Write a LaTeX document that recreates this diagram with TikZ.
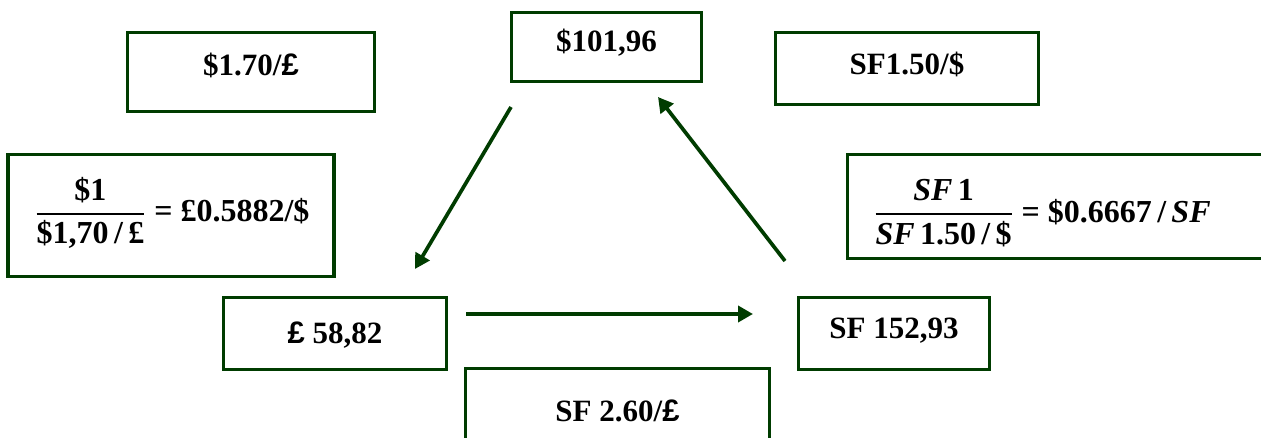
\RequirePackage{fix-cm}
\documentclass[tikz,border=0pt]{standalone}
\usepackage{amsmath}
\usepackage{fontspec}
\setmainfont{Liberation Serif}
\newfontfamily\gbpfont{Liberation Sans}
\usetikzlibrary{arrows.meta}
\definecolor{dkgreen}{RGB}{0,60,0}
\newcommand{\gbp}{{\gbpfont\bfseries £}}
\newcommand{\ratefrac}[2]{\genfrac{}{}{1.6pt}{0}{\text{#1}}{\text{#2}}}

\begin{document}
\begin{tikzpicture}[x=1pt, y=-1pt,
    box/.style={draw=dkgreen, line width=3.3pt, inner sep=0pt,
        font=\fontsize{31}{36}\selectfont\bfseries, text height=20pt},
    formula/.style={inner sep=0pt, font=\fontsize{32}{38}\selectfont\bfseries},
    link/.style={draw=dkgreen, line width=3.7pt, -{Triangle[length=15pt, width=16pt]}}]
            \useasboundingbox (0,0) rectangle (1261,438);
            \node[box, minimum width=247, minimum height=79, text depth=13pt] (usdgbp) at (251,72) {\$1.70/\gbp};
            \node[box, minimum width=190, minimum height=69, text depth=11pt] (usdamt) at (606.5,47) {\$101,96};
            \node[box, minimum width=263, minimum height=72, text depth=8pt] (sfusd) at (907,68.5) {SF1.50/\$};
            \node[box, minimum width=326, minimum height=122, text height=, text depth=] (gbpcalc) at (171,215.5) {};
            \node[formula] (gbpfrac) at (172.5,213) {$\ratefrac{\$1}{\$1,70\,/\,£}\;\text{= £0.5882/\$}$};
            \node[box, minimum width=451, minimum height=104, text height=, text depth=] (sfcalc) at (1073,206.5) {};
            \node[formula] (sffrac) at (1042.5,213) {$\ratefrac{\textit{SF}\,1}{\textit{SF}\,1.50\,/\,\$}\;\text{= \$0.6667\,/\,\textit{SF}}$};
            \node[box, minimum width=223, minimum height=72, text depth=0pt] (gbpamt) at (335,333.5) {\gbp\ 58,82};
            \node[box, minimum width=191, minimum height=72, text depth=10pt] (sfamt) at (894,333.5) {SF 152,93};
            \node[box, minimum width=304, minimum height=85, text depth=0pt] (sfgbp) at (617.5,411) {SF 2.60/\gbp};
            \coordinate (usdout) at (511,107);
            \coordinate (gbpin) at (415,269);
            \coordinate (gbpout) at (466,314);
            \coordinate (sfin) at (753,314);
            \coordinate (sfout) at (785,261);
            \coordinate (usdin) at (658,97);
            \draw[link] (usdout) -- (gbpin);
            \draw[link] (gbpout) -- (sfin);
            \draw[link] (sfout) -- (usdin);
        \end{tikzpicture}
\end{document}
